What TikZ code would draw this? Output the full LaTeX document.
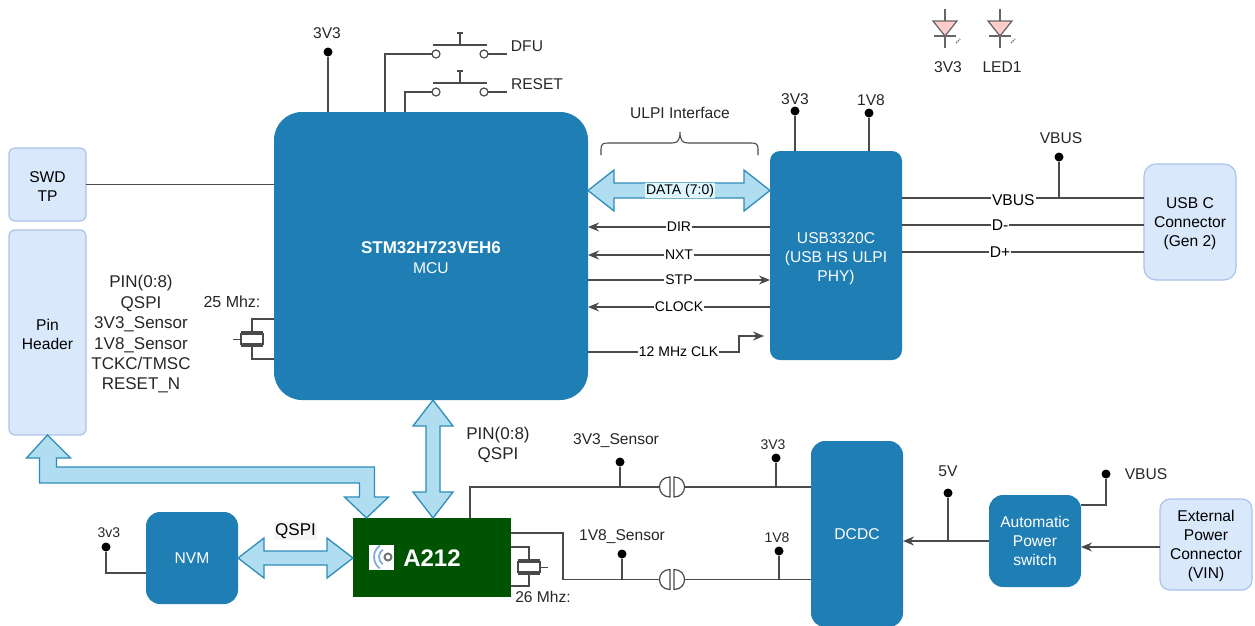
\documentclass[tikz,border=0pt]{standalone}
\usepackage{fontspec}
\setmainfont{Liberation Sans}
\usepackage{xcolor}
\usepackage{tikz}
\usetikzlibrary{shapes,arrows,positioning,calc,arrows.meta}
\definecolor{mcublue}{HTML}{1F7EB3}
\definecolor{lightbox}{HTML}{DAE8FC}
\definecolor{lightedge}{HTML}{A9C4E8}
\definecolor{busfill}{HTML}{B1DDF0}
\definecolor{busedge}{HTML}{2E8DB8}
\definecolor{wiregray}{HTML}{4A4A4A}
\definecolor{a212green}{HTML}{005300}
\newcommand{\smallfont}{\fontsize{14}{17}\selectfont}
\newcommand{\basefont}{\fontsize{15.6}{19}\selectfont}
\newcommand{\largefont}{\fontsize{17}{20.4}\selectfont}
\newcommand{\droptext}[1]{\rule{0pt}{#1pt}}

\begin{document}
\begin{tikzpicture}[x=1pt,y=-1pt,
    every node/.style={font=\basefont},
    block/.style={rectangle, fill=mcublue, text=white, align=center, inner sep=0pt, outer sep=0pt},
    lightblock/.style={rectangle, draw=lightedge, line width=1.2pt, fill=lightbox, align=center, inner sep=0pt, outer sep=0pt, minimum width=77pt},
    wire/.style={draw=wiregray, line width=1.4pt},
    sigarrow/.style={wire, -{Stealth[length=11pt,width=9pt]}},
    sig/.style={fill=white, inner sep=1pt, font=\smallfont},
    tp/.style={circle, fill=black, inner sep=0pt, minimum size=9pt, outer sep=0pt},
    txt/.style={align=center, inner sep=0pt, text=black!85},
    bus/.style={draw=busedge, fill=busfill, line width=1.3pt, line join=miter},
    xtal/.pic={
        \draw[wire,line width=2pt] (-11,-7) -- (11,-7);
        \draw[wire,line width=1.6pt,fill=white] (-11,-5) rectangle (11,5);
        \draw[wire,line width=2pt] (-11,7) -- (11,7);
        \draw[wire,line width=1pt] (-11,0) -- (-19,0);
        \coordinate (-top) at (0,-7);
        \coordinate (-bot) at (0,7);
    },
    jumper/.pic={
        \draw[wire,line width=1.2pt,fill=white] (-2,-10) .. controls (-16,-10) and (-16,10) .. (-2,10) -- cycle;
        \draw[wire,line width=1.2pt,fill=white] (2,-10) .. controls (16,-10) and (16,10) .. (2,10) -- cycle;
        \coordinate (-l) at (-12.5,0);
        \coordinate (-r) at (12.5,0);
    },
    pushbtn/.pic={
        \draw[wire,line width=1.2pt,fill=white] (-24,0) circle (4);
        \draw[wire,line width=1.2pt,fill=white] (24,0) circle (4);
        \draw[wire,line width=1.2pt] (-27,-9) -- (27,-9);
        \draw[wire,line width=1.2pt] (0,-9) -- (0,-21) (-3,-21) -- (3,-21);
        \coordinate (-l) at (-28,0);
        \coordinate (-r) at (28,0);
    },
    ledsym/.pic={
        \draw[wire,draw=black!60,line width=1.2pt] (0,-12) -- (0,27) (-11,15) -- (11,15);
        \draw[wire,draw=black!60,line width=1.2pt,fill=red!20] (-12,0) -- (12,0) -- (0,15) -- cycle;
        \draw[draw=black!50,line width=1.6pt,dash pattern=on 1.5pt off 1pt] (11,22) -- (15,18);
    }]
    \useasboundingbox (0,0) rectangle (1255,625);

    % main blocks
    \node[block, rounded corners=28pt, minimum width=314pt, minimum height=288pt] (mcu) at (431,256) {\droptext{16}\textbf{\fontsize{17}{20}\selectfont STM32H723VEH6}\\[1pt]MCU};
    \node[block, rounded corners=10pt, minimum width=132pt, minimum height=209pt] (usb) at (836,255.5) {\droptext{18}USB3320C\\(USB HS ULPI\\PHY)};
    \node[block, rounded corners=14pt, minimum width=92pt, minimum height=186pt] (dcdc) at (857,534) {DCDC};
    \node[block, rounded corners=14pt, minimum width=92pt, minimum height=92pt] (pwrsw) at (1035,541) {Automatic\\Power\\switch};
    \node[block, rounded corners=14pt, minimum width=92pt, minimum height=92pt] (nvm) at (192,558) {NVM};
    \node[rectangle, fill=a212green, minimum width=158pt, minimum height=79pt, inner sep=0pt, outer sep=0pt] (a212) at (432,557.5) {};
    \node[lightblock, rounded corners=6pt, minimum height=73pt] (swd) at (47.5,184.5) {\droptext{14}SWD\\TP};
    \node[lightblock, rounded corners=6pt, minimum height=205pt] (pinh) at (47.5,332.5) {\droptext{15}Pin\\Header};
    \node[lightblock, rounded corners=12pt, minimum width=92pt, minimum height=116pt] (usbc) at (1190,222) {\droptext{15}USB C\\Connector\\(Gen 2)};
    \node[lightblock, rounded corners=10pt, minimum width=92pt, minimum height=91pt] (extpwr) at (1206,544.5) {\droptext{15}External\\Power\\Connector\\(VIN)};

    % A212 logo and name
    \node[fill=white, minimum size=25pt, inner sep=0pt] (logo) at (381.5,557.5) {};
    \draw[draw=black!55, line width=2pt] (388,557) circle (3.5);
    \foreach \r in {9,14}
        \draw[draw=cyan!55!blue!50, line width=1.8pt] (388,557) ++(125:\r) arc[start angle=125, end angle=235, radius=\r];
    \node[text=white, inner sep=0pt] (a212txt) at (432,558) {\textbf{\fontsize{24}{28}\selectfont A212}};

    % wide buses
    \draw[bus] (mcu.east |- 0,190.5) -- ++(26,-20.5) -- ++(0,13) -- ++(130,0) -- ++(0,-13) -- ++(26,20.5) -- ++(-26,20.5) -- ++(0,-13) -- ++(-130,0) -- ++(0,13) -- cycle;
    \node[fill=blue!30!cyan!12, inner sep=1pt, font=\smallfont] (datatxt) at (680,190.5) {DATA (7:0)};
    \draw[bus] (433,0 |- mcu.south) -- ++(20,26) -- ++(-13,0) -- ++(0,66) -- ++(13,0) -- ++(-20,26) -- ++(-20,-26) -- ++(13,0) -- ++(0,-66) -- ++(-13,0) -- cycle;
    \draw[bus] (nvm.east |- 0,558) -- ++(26,-20) -- ++(0,13) -- ++(63,0) -- ++(0,-13) -- ++(26,20) -- ++(-26,20) -- ++(0,-13) -- ++(-63,0) -- ++(0,13) -- cycle;
    \draw[bus] (pinh.south) -- ++(23,23) -- ++(-14,0) -- ++(0,9) -- ++(318,0) -- ++(0,30) -- ++(14,0) -- ++(-22,21) -- ++(-22,-21) -- ++(15,0) -- ++(0,-14) -- ++(-320,0) -- ++(0,-25) -- ++(-13,0) -- cycle;
    \node[fill=black!4, inner sep=1pt, font=\largefont] (qspitxt) at (295.5,531) {QSPI};

    % MCU top
    \node[tp] (tpmcu) at (328,52) {};
    \node[txt] (tpmcutxt) at (327,33) {3V3};
    \draw[wire] (tpmcu) -- (tpmcu |- mcu.north);
    \pic (swdfu) at (460,54) {pushbtn};
    \pic (swrst) at (460,92) {pushbtn};
    \draw[wire] (385,0 |- mcu.north) |- (swdfu-l);
    \draw[wire] (405,0 |- mcu.north) |- (swrst-l);
    \coordinate (dfuend) at (507,54);
    \coordinate (rstend) at (507,92);
    \draw[wire] (swdfu-r) -- (dfuend);
    \draw[wire] (swrst-r) -- (rstend);
    \node[txt] (dfutxt) at (527,46) {DFU};
    \node[txt] (rsttxt) at (537,84) {RESET};

    % LEDs
    \pic (led1) at (945,21) {ledsym};
    \pic (led2) at (1000,21) {ledsym};
    \node[txt] (led1txt) at (948,67) {3V3};
    \node[txt] (led2txt) at (1002,67) {LED1};

    % left side
    \draw[wire] (swd.east) -- (mcu.west |- swd.east);
    \node[txt, font=\largefont] (pinstxt) at (141,334.5) {PIN(0:8)\\QSPI\\3V3\_Sensor\\1V8\_Sensor\\TCKC/TMSC\\RESET\_N};
    \node[txt, font=\fontsize{16}{19}\selectfont] (xt1txt) at (232,302) {25 Mhz:};
    \pic (xt1) at (252,339) {xtal};
    \draw[wire] (xt1-top) |- (mcu.west |- 0,319);
    \draw[wire] (xt1-bot) |- (mcu.west |- 0,359);

    % ULPI
    \draw[wire, line width=1.1pt] (601,155) -- (601,149) .. controls (601,144) and (603,143) .. (608,143) -- (672,143) .. controls (677,143) and (680,141) .. (680,132) .. controls (680,141) and (683,143) .. (688,143) -- (751,143) .. controls (756,143) and (758,144) .. (758,149) -- (758,155);
    \node[txt] (ulpitxt) at (680,113) {ULPI Interface};
    \foreach \y/\signame in {227/DIR,255/NXT,307/CLOCK}
        \draw[sigarrow] (usb.west |- 0,\y) -- (mcu.east |- 0,\y) node[sig, midway] (txt\signame) {\signame};
    \draw[sigarrow] (mcu.east |- 0,280) -- (usb.west |- 0,280) node[sig, midway] (txtSTP) {STP};
    \coordinate (clkend) at (764,336);
    \draw[sigarrow] (mcu.east |- 0,352) -- node[sig, pos=.6] (txtclk) {12 MHz CLK} (739,352) |- (clkend);

    % USB side
    \node[tp] (tpusba) at (795,111) {};
    \node[tp] (tpusbb) at (869,113) {};
    \node[txt] (tpusbatxt) at (795,99) {3V3};
    \node[txt] (tpusbbtxt) at (871,100) {1V8};
    \draw[wire] (tpusba) -- (tpusba |- usb.north);
    \draw[wire] (tpusbb) -- (tpusbb |- usb.north);
    \draw[wire] (usb.east |- 0,198) -- node[sig, font=\basefont, pos=.46, yshift=-2pt] (txtvbus) {VBUS} (usbc.west |- 0,198);
    \draw[wire] (usb.east |- 0,225) -- node[sig, font=\basefont, pos=.405] (txtdm) {D-} (usbc.west |- 0,225);
    \draw[wire] (usb.east |- 0,252) -- node[sig, font=\basefont, pos=.405] (txtdp) {D+} (usbc.west |- 0,252);
    \node[tp] (tpvbus) at (1059,157) {};
    \node[txt] (tpvbustxt) at (1061,138) {VBUS};
    \draw[wire] (tpvbus) -- (tpvbus |- 0,198);

    % A212 supplies
    \pic (xt2) at (529,567) [xscale=-1] {xtal};
    \draw[wire] (xt2-top) |- (a212.east |- 0,547);
    \draw[wire] (xt2-bot) |- (a212.east |- 0,586);
    \node[txt] (xt2txt) at (543,597) {26 Mhz:};
    \node[txt, font=\largefont] (bustxt) at (498,445) {PIN(0:8)\\QSPI};
    \pic (jp1) at (672,487) {jumper};
    \pic (jp2) at (672,579.5) {jumper};
    \draw[wire] (470,0 |- a212.north) |- (jp1-l);
    \draw[wire] (jp1-r) -- (dcdc.west |- jp1-r);
    \draw[wire] (a212.east |- 0,533) -| (563,0 |- jp2-l) -- (jp2-l);
    \draw[wire] (jp2-r) -- (dcdc.west |- jp2-r);
    \node[tp] (tpsa) at (620,462) {};
    \node[tp] (tpsb) at (622,554) {};
    \node[tp] (tpda) at (776,458) {};
    \node[tp] (tpdb) at (779,551) {};
    \draw[wire] (tpsa) -- (tpsa |- jp1-l);
    \draw[wire] (tpsb) -- (tpsb |- jp2-l);
    \draw[wire] (tpda) -- (tpda |- jp1-l);
    \draw[wire] (tpdb) -- (tpdb |- jp2-l);
    \node[txt] (tpsatxt) at (616,441) {3V3\_Sensor};
    \node[txt] (tpsbtxt) at (622,537) {1V8\_Sensor};
    \node[txt, font=\smallfont] (tpdatxt) at (773,445) {3V3};
    \node[txt, font=\smallfont] (tpdbtxt) at (777,538) {1V8};

    % NVM supply
    \node[tp] (tpnvm) at (106,547) {};
    \node[txt, font=\smallfont] (tpnvmtxt) at (109,533) {3v3};
    \draw[wire] (tpnvm) |- (nvm.west |- 0,573);

    % power path
    \draw[sigarrow] (pwrsw.west) -- (dcdc.east |- pwrsw.west);
    \node[tp] (tp5v) at (948,493) {};
    \node[txt] (tp5vtxt) at (948,471) {5V};
    \draw[wire] (tp5v) -- (tp5v |- pwrsw.west);
    \node[tp] (tpvin) at (1106,474) {};
    \node[txt] (tpvintxt) at (1146,474) {VBUS};
    \draw[wire] (tpvin) |- (pwrsw.east |- 0,505);
    \draw[sigarrow] (extpwr.west |- 0,547) -- (pwrsw.east |- 0,547);
\end{tikzpicture}
\end{document}
